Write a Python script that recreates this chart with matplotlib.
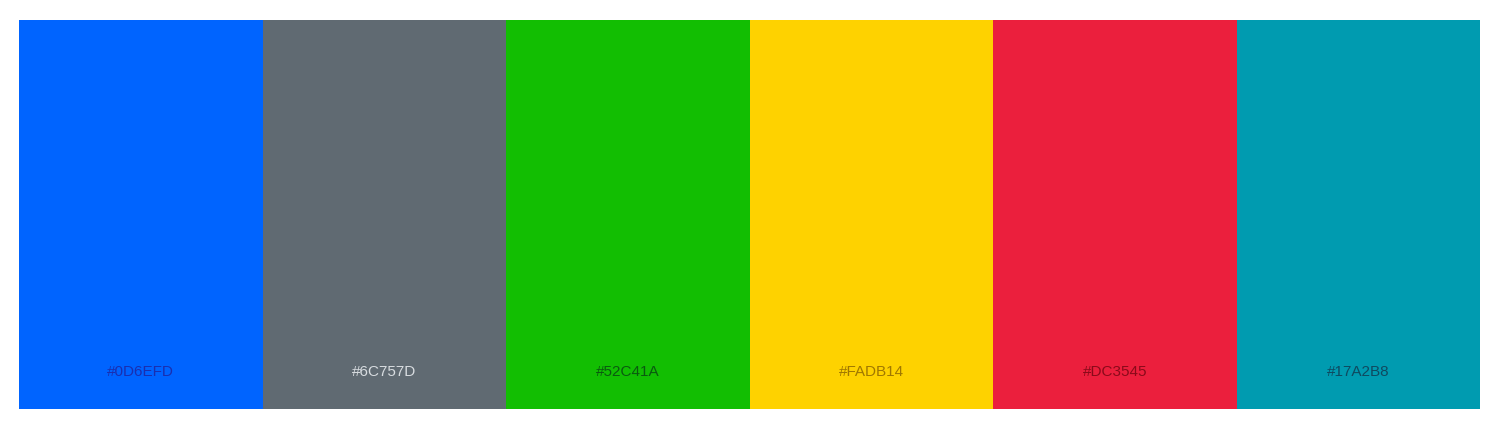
import matplotlib.pyplot as plt

labels = ['#0D6EFD', '#6C757D', '#52C41A', '#FADB14', '#DC3545', '#17A2B8']
fills = ['#0064FF', '#606A72', '#12BE02', '#FED200', '#EB1F3D', '#009BB0']
text_colors = ['#1A2FB0', '#D8DCE0', '#0A5A10', '#A07800', '#8A0A1A', '#0F4A60']

fig = plt.figure(figsize=(15, 4.34), dpi=100)
ax = fig.add_axes([19 / 1500, 25 / 434, 1461 / 1500, 389 / 434])
for i, (lab, c, tc) in enumerate(zip(labels, fills, text_colors)):
    ax.bar(i, 1, width=1, color=c, align='edge', linewidth=0)
    ax.text(i + 0.5, 0.095, lab, ha='center', va='center', color=tc,
            fontsize=11, family='Liberation Sans')
ax.set_xlim(0, len(labels))
ax.set_ylim(0, 1)
ax.axis('off')
fig.savefig('out.png')
